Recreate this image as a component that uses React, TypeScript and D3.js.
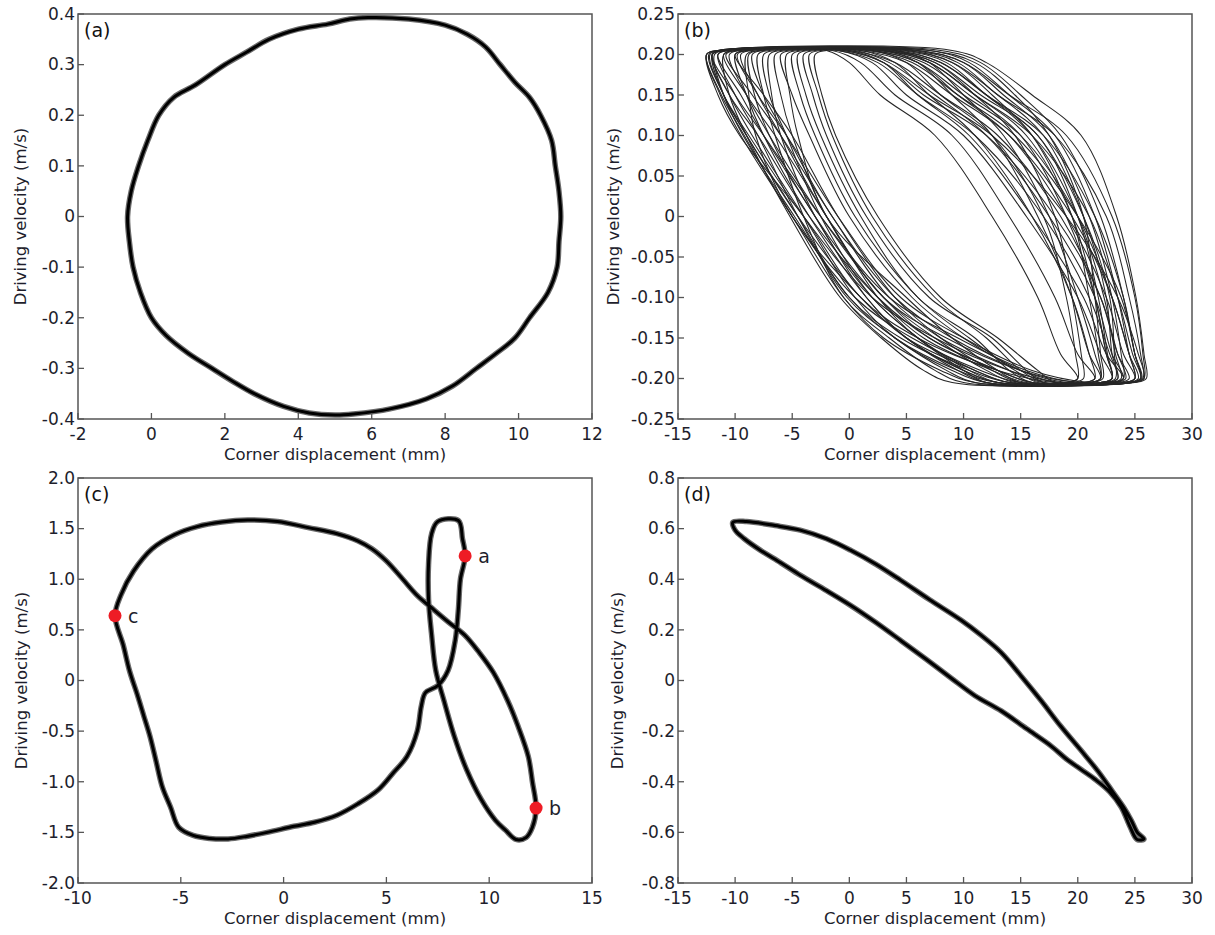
import React from "react";
import * as d3 from "d3";

type Pt = [number, number];

// ---------- Panel (a) data ----------
const aXTicks = [-2, 0, 2, 4, 6, 8, 10, 12];
const aYTicks = [-0.4, -0.3, -0.2, -0.1, 0, 0.1, 0.2, 0.3, 0.4];
const loopA: Pt[] = [
  [5.9, 0.393], [7, 0.39], [8, 0.378], [8.6, 0.36], [9.1, 0.335], [9.5, 0.3], [9.9, 0.265],
  [10.3, 0.235], [10.6, 0.2], [10.9, 0.15], [11.0, 0.1], [11.1, 0.05], [11.15, 0.0],
  [11.1, -0.05], [11.05, -0.1], [10.8, -0.15], [10.3, -0.2], [9.9, -0.24], [9.4, -0.27],
  [8.85, -0.3], [8.2, -0.335], [7.5, -0.36], [6.5, -0.38], [5.5, -0.39], [5.0, -0.392],
  [4.3, -0.388], [3.6, -0.375], [2.8, -0.35], [2.2, -0.325], [1.65, -0.3], [1.0, -0.27],
  [0.4, -0.235], [0.0, -0.2], [-0.3, -0.15], [-0.5, -0.1], [-0.6, -0.05], [-0.65, 0.0],
  [-0.55, 0.05], [-0.35, 0.1], [-0.1, 0.15], [0.2, 0.2], [0.6, 0.235], [1.2, 0.26],
  [2.0, 0.3], [2.6, 0.325], [3.2, 0.35], [4.0, 0.37], [4.8, 0.38], [5.4, 0.39],
];

// ---------- Panel (b) data: per-cycle crossing positions (mm) ----------
const bXTicks = [-15, -10, -5, 0, 5, 10, 15, 20, 25, 30];
const bYTicks = [-0.25, -0.2, -0.15, -0.1, -0.05, 0, 0.05, 0.1, 0.15, 0.2, 0.25];
const bTopLeft   = [-12.5, -12, -11.5, -11, -10, -3.5, -4.5, -7, -9, -5.5, -12, -10.5, -12.5, -8, -11, -6, -12, -9.5, -7.5, -12.5, -4, -10, -8.5, -11.5, -5, -12, -12.2, -10.8, -6.5, -9.8, -12.3, -3, -11.8, -8.8];
const bTopEnd    = [6, 4, 2, 0, -1, -2, -1.5, 3, 5, 1, 7, 3, 9, 2, 5, 0, 1, 6, -1, 3, 4, 8, -0.5, 4.5, 2, -0.5, 5.5, 2.5, 0.5, 7, 3.5, 3, 1.5, 4];
const bRight19   = [10, 8, 6, 4, 2, 0, 1, 7, 9, 4, 11, 7.5, 12, 6, 9, 3, 5, 10, 2.5, 7, 7, 11.5, 3, 8.5, 5, 3, 9.5, 6.5, 3.5, 10.5, 7.5, 6, 5.5, 8];
const bRight15   = [14, 12, 10, 8, 5, 2.7, 4, 11, 13, 7, 14.5, 11, 16, 9.5, 12.5, 6, 9, 13.5, 6, 11, 10, 15, 6.5, 12, 8, 7, 13, 10.5, 7.5, 14, 11.5, 9, 9.5, 12];
const bRight10   = [19, 17, 15, 13, 10, 7.5, 9, 15.5, 17, 11, 17.5, 14.5, 20.3, 14, 16, 10.5, 14, 17.5, 11, 16, 13.5, 18.5, 12, 16.5, 12.5, 12.5, 18, 15, 12, 18, 16.5, 12.5, 14.5, 16];
const bRight00   = [23, 21.5, 20, 18.5, 15.5, 12.5, 14, 19.5, 20.5, 16, 20.5, 18, 23.4, 19, 19.5, 16, 19.5, 21, 17, 21, 17.5, 22, 18, 20.5, 17, 19, 22.5, 19, 17.5, 21.5, 20, 16.5, 20, 20];
const bRightM10  = [25, 24, 23, 22, 20, 16.5, 18, 21.5, 22.5, 19.5, 21.5, 19.5, 25.1, 22.5, 21, 20.5, 23, 23, 21, 23.5, 20, 24, 22, 22.8, 19, 23.5, 24.5, 21.5, 21.5, 23.5, 21.8, 19.5, 23.8, 22.3];
const bRightM17  = [25.7, 25, 24.5, 23.5, 22, 18.5, 20, 22.5, 23, 21, 22, 20.3, 25.8, 24, 21.8, 22.5, 24.5, 23.8, 22.8, 24.8, 21.5, 25, 23.5, 23.2, 19.8, 25.3, 25.5, 22.5, 23, 24.5, 22.6, 21, 25, 23.3];
const bBotRight  = [25.8, 25.5, 25, 24.5, 23, 20, 21.5, 23, 23.5, 21.5, 22.2, 20.5, 26, 25, 22, 24, 25.3, 24, 23.5, 25.5, 22, 25.5, 24.2, 23.3, 20, 25.8, 25.7, 23, 24, 25, 23, 22, 25.6, 23.8];
const bBotEnd    = [11, 12, 13, 14, 15, 17, 16, 13, 12, 15, 14, 16, 18, 10, 9, 18, 16, 20, 12, 15, 17, 13, 19, 11, 16.5, 20, 14, 17, 14.5, 21, 18.5, 18, 13, 15.5];
const bLeftM19   = [8, 9, 10, 11, 12.5, 15, 14, 10.5, 9.5, 13, 10.5, 13, 13, 7.5, 6.5, 15, 13, 15, 10, 11.5, 15.5, 10, 15, 8.5, 14.5, 15.5, 11, 14, 12, 16, 14, 16.5, 9.5, 12.5];
const bLeftM15   = [3, 4, 5, 6, 8, 12, 11, 6, 5, 9, 4.5, 7, 6, 3.5, 2.8, 10, 7, 8.5, 6, 5.5, 12.5, 5, 9, 4, 10.5, 9.5, 5, 8, 7.5, 10, 7.5, 13, 4, 6.5];
const bLeftM10   = [-0.5, 0.5, 1.5, 2.5, 4, 7.5, 6, 2, 1, 5, 0, 3, 1, -0.5, -0.8, 5.5, 2.5, 3, 2, 0.5, 7, 1.5, 4, -0.2, 6, 3.5, 1, 3.5, 3, 4.5, 2, 8, 0, 2.5];
const bLeft00    = [-5, -4, -3, -2, -1, 2, 1, -3, -5, -2, -4.5, -2.5, -4, -4, -5.2, 0, -3.5, -2, -2.5, -5, 1.5, -3.5, -1.5, -4.5, 0.5, -2.5, -4.5, -1.5, -2, -1, -4, 2.5, -4.8, -3];
const bLeft10    = [-9.5, -8.5, -7.5, -6.5, -5, -1.5, -2.5, -6, -8.2, -4.5, -9, -7, -9.6, -6.5, -9, -3.5, -8, -6, -5.5, -9.2, -2, -7.5, -5.5, -8, -3, -7.5, -9, -6, -5, -5.5, -8.8, -1.2, -9.3, -7];
const bLeft15    = [-11.3, -10.5, -9.5, -9, -7.5, -2.7, -3.8, -6.8, -8.8, -5.2, -11, -9, -11.5, -7.5, -10.5, -5, -10.5, -8, -7, -11.2, -3.2, -9, -7.5, -10, -4.3, -10, -11, -8.5, -6, -8, -11, -2.4, -11, -8.3];

// ---------- Panel (c) data ----------
const cXTicks = [-10, -5, 0, 5, 10, 15];
const cYTicks = [-2, -1.5, -1, -0.5, 0, 0.5, 1, 1.5, 2];
const loopC: Pt[] = [
  [-8.2, 0.64], [-7.9, 0.85], [-7.3, 1.08], [-6.4, 1.3], [-5.3, 1.44], [-4.2, 1.52], [-3, 1.565],
  [-1.75, 1.585], [-0.3, 1.57], [1.2, 1.51], [2.6, 1.45], [3.6, 1.38], [4.3, 1.3], [5.0, 1.18],
  [5.8, 1.0], [6.5, 0.84], [7.3, 0.7], [8.0, 0.58], [8.8, 0.45], [9.5, 0.28], [10.2, 0.08],
  [10.9, -0.2], [11.4, -0.45], [11.9, -0.75], [12.1, -1.0], [12.28, -1.26], [12.1, -1.45],
  [11.8, -1.55], [11.3, -1.57], [10.8, -1.48], [10.3, -1.38], [9.6, -1.17], [8.9, -0.88],
  [8.3, -0.55], [7.8, -0.2], [7.4, 0.1], [7.2, 0.45], [7.05, 0.8], [7.05, 1.15], [7.2, 1.45],
  [7.5, 1.57], [8.5, 1.58], [8.7, 1.4], [8.83, 1.23], [8.6, 1.0], [8.5, 0.7], [8.35, 0.4],
  [8.0, 0.1], [7.5, -0.05], [6.9, -0.12], [6.7, -0.25], [6.5, -0.5], [6.0, -0.75], [5.3, -0.92],
  [4.6, -1.08], [3.6, -1.22], [2.6, -1.33], [1.5, -1.4], [0.5, -1.44], [-0.8, -1.5], [-1.8, -1.54],
  [-2.7, -1.565], [-3.6, -1.56], [-4.4, -1.53], [-5.1, -1.45], [-5.5, -1.25], [-5.9, -1.05],
  [-6.2, -0.8], [-6.5, -0.55], [-6.8, -0.35], [-7.1, -0.15], [-7.5, 0.1], [-7.8, 0.35],
];
const cMarkerNames = ["a", "b", "c"];
const cMarkerX = [8.83, 12.28, -8.2];
const cMarkerY = [1.23, -1.26, 0.64];

// ---------- Panel (d) data ----------
const dXTicks = [-15, -10, -5, 0, 5, 10, 15, 20, 25, 30];
const dYTicks = [-0.8, -0.6, -0.4, -0.2, 0, 0.2, 0.4, 0.6, 0.8];
const loopD: Pt[] = [
  [-10.2, 0.625], [-9, 0.628], [-6.5, 0.612], [-4.3, 0.594], [-2, 0.56], [0.1, 0.515],
  [2.3, 0.46], [4.5, 0.396], [7, 0.32], [9.8, 0.238], [11.5, 0.18], [13.3, 0.11], [15, 0.02],
  [16.8, -0.08], [18.5, -0.18], [20.3, -0.277], [21.8, -0.36], [23, -0.436], [24, -0.5],
  [24.7, -0.554], [25.2, -0.6], [25.8, -0.626], [25.2, -0.628], [24.6, -0.58], [23.8, -0.5],
  [22.8, -0.44], [21.5, -0.39], [20.3, -0.352], [19, -0.31], [17.7, -0.26], [15.5, -0.19],
  [13.3, -0.12], [11, -0.06], [8.9, 0.01], [6.7, 0.085], [4.5, 0.158], [2.3, 0.23], [0.1, 0.297],
  [-2, 0.355], [-4.3, 0.416], [-6, 0.465], [-7.8, 0.515], [-9.2, 0.56], [-10, 0.594],
];

// ---------- layout ----------
const TXT = "#1e1e2c";
const FONT = "'DejaVu Sans', Verdana, sans-serif";

type PanelProps = {
  left: number; top: number; w: number; h: number;
  xDomain: [number, number]; yDomain: [number, number];
  xTicks: number[]; yTicks: number[];
  yFmt: (v: number) => string; label: string; yTitleOff: number;
  render: (x: d3.ScaleLinear<number, number>, y: d3.ScaleLinear<number, number>) => React.ReactNode;
};

function Panel(p: PanelProps) {
  const x = d3.scaleLinear().domain(p.xDomain).range([p.left, p.left + p.w]);
  const y = d3.scaleLinear().domain(p.yDomain).range([p.top + p.h, p.top]);
  const bottom = p.top + p.h;
  return (
    <g>
      <defs>
        <clipPath id={"clip" + p.label}>
          <rect x={p.left} y={p.top} width={p.w} height={p.h} />
        </clipPath>
      </defs>
      <g clipPath={`url(#clip${p.label})`}>{p.render(x, y)}</g>
      <rect x={p.left} y={p.top} width={p.w} height={p.h} fill="none" stroke="#555" strokeWidth={1.5} />
      {p.xTicks.map((t) => (
        <g key={"x" + t}>
          <line x1={x(t)} x2={x(t)} y1={bottom} y2={bottom - 6} stroke="#555" strokeWidth={1.3} />
          <text x={x(t)} y={bottom + 21} textAnchor="middle" fontSize={17} fill={TXT} fontFamily={FONT}>
            {String(t)}
          </text>
        </g>
      ))}
      {p.yTicks.map((t) => (
        <g key={"y" + t}>
          <line x1={p.left} x2={p.left + 6} y1={y(t)} y2={y(t)} stroke="#555" strokeWidth={1.3} />
          <text x={p.left - 3} y={y(t)} dy="0.34em" textAnchor="end" fontSize={17} fill={TXT} fontFamily={FONT}>
            {p.yFmt(t)}
          </text>
        </g>
      ))}
      <text x={p.left + 6} y={p.top + 23} fontSize={19} fill="#111" fontFamily={FONT}>
        ({p.label})
      </text>
      <text x={p.left + p.w / 2} y={bottom + 41} textAnchor="middle" fontSize={16.5} fill={TXT} fontFamily={FONT}>
        Corner displacement (mm)
      </text>
      <text
        transform={`translate(${p.left - p.yTitleOff},${p.top + p.h / 2}) rotate(-90)`}
        textAnchor="middle"
        fontSize={16.5}
        fill={TXT}
        fontFamily={FONT}
      >
        Driving velocity (m/s)
      </text>
    </g>
  );
}

function thickLoop(pts: Pt[], x: any, y: any) {
  const line = d3.line<Pt>().x((d) => x(d[0])).y((d) => y(d[1])).curve(d3.curveCatmullRomClosed.alpha(0.5));
  const d = line(pts) || "";
  return (
    <g>
      <path d={d} fill="none" stroke="#6a6a6a" strokeWidth={5.5} strokeLinejoin="round" />
      <path d={d} fill="none" stroke="#000" strokeWidth={3} strokeLinejoin="round" />
    </g>
  );
}

// build cycle polygons for panel (b) from the crossing tables
const cyclesB: Pt[][] = bTopLeft.map((_, i) => [
  [bTopLeft[i], 0.2], [bTopLeft[i] + 1, 0.205], [bTopEnd[i], 0.205],
  [bRight19[i], 0.19], [bRight15[i], 0.15], [bRight10[i], 0.1], [bRight00[i], 0],
  [bRightM10[i], -0.1], [bRightM17[i], -0.17], [bBotRight[i], -0.2], [bBotRight[i] - 1, -0.205],
  [bBotEnd[i], -0.205], [bLeftM19[i], -0.19], [bLeftM15[i], -0.15], [bLeftM10[i], -0.1], [bLeft00[i], 0],
  [bLeft10[i], 0.1], [bLeft15[i], 0.15],
]);

const fmt1 = (v: number) => (v === 0 ? "0" : v.toFixed(1));
const fmt2 = (v: number) => (v === 0 ? "0" : v.toFixed(2));

export default function App() {
  const W = 514, H = 405;
  const L1 = 78, L2 = 678, T1 = 14, T2 = 478;
  return (
    <div style={{ position: "absolute", left: 0, top: 0 }}>
      <svg width={1215} height={935} style={{ display: "block", background: "#fff" }}>
        <Panel left={L1} top={T1} w={W} h={H} xDomain={[-2, 12]} yDomain={[-0.4, 0.4]}
          xTicks={aXTicks} yTicks={aYTicks} yFmt={fmt1} label="a" yTitleOff={52}
          render={(x, y) => thickLoop(loopA, x, y)} />
        <Panel left={L2} top={T1} w={W} h={H} xDomain={[-15, 30]} yDomain={[-0.25, 0.25]}
          xTicks={bXTicks} yTicks={bYTicks} yFmt={fmt2} label="b" yTitleOff={59}
          render={(x, y) => {
            const line = d3.line<Pt>().x((d) => x(d[0])).y((d) => y(d[1])).curve(d3.curveCatmullRomClosed.alpha(0.5));
            return cyclesB.map((lp, i) => (
              <path key={i} d={line(lp) || ""} fill="none" stroke="#262626" strokeWidth={1.05} />
            ));
          }} />
        <Panel left={L1} top={T2} w={W} h={H} xDomain={[-10, 15]} yDomain={[-2, 2]}
          xTicks={cXTicks} yTicks={cYTicks} yFmt={fmt1} label="c" yTitleOff={51}
          render={(x, y) => (
            <g>
              {thickLoop(loopC, x, y)}
              {cMarkerNames.map((n, i) => (
                <g key={n}>
                  <circle cx={x(cMarkerX[i])} cy={y(cMarkerY[i])} r={6.5} fill="#ee1c25" />
                  <text x={x(cMarkerX[i]) + 13} y={y(cMarkerY[i])} dy="0.36em" fontSize={19} fill={TXT} fontFamily={FONT}>
                    {n}
                  </text>
                </g>
              ))}
            </g>
          )} />
        <Panel left={L2} top={T2} w={W} h={H} xDomain={[-15, 30]} yDomain={[-0.8, 0.8]}
          xTicks={dXTicks} yTicks={dYTicks} yFmt={fmt1} label="d" yTitleOff={55}
          render={(x, y) => thickLoop(loopD, x, y)} />
      </svg>
    </div>
  );
}
